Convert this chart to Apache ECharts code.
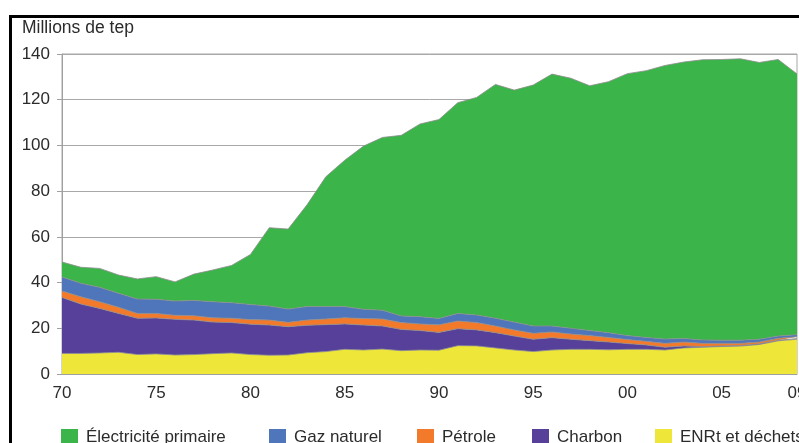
<!DOCTYPE html>
<html lang="fr">

<head>
    <meta charset="UTF-8">
    <title>Production d'énergie primaire</title>
    <script src="https://cdn.jsdelivr.net/npm/echarts@6/dist/echarts.min.js"></script>
    <style>
        body {
            margin: 0;
            background-color: #fff;
        }

        #chart {
            width: 799px;
            height: 443px;
        }

        .frame {
            position: absolute;
            left: 9px;
            top: 15px;
            right: 0;
            bottom: 0;
            border-left: 3px solid #000;
            border-top: 3px solid #000;
            pointer-events: none;
        }
    </style>
</head>

<body>
    <div id="chart"></div>
    <div class="frame"></div>
    <script>
        // Années 1970 - 2009
        const annees = [];
        for (let a = 1970; a <= 2009; a++) annees.push(String(a));

        // Millions de tep, par source (lecture du graphique)
        const enrt = [9.0, 9.0, 9.2, 9.5, 8.5, 8.8, 8.3, 8.5, 8.9, 9.2,
            8.5, 8.2, 8.3, 9.3, 9.8, 10.8, 10.5, 10.9, 10.2, 10.5,
            10.4, 12.4, 12.3, 11.4, 10.5, 9.8, 10.5, 10.8, 10.8, 10.6,
            10.8, 10.8, 10.5, 11.4, 11.7, 12.0, 12.2, 12.9, 14.5, 15.2];
        const charbon = [24.5, 21.6, 19.5, 17.0, 15.9, 15.7, 15.6, 15.1, 13.8, 13.3,
            13.3, 13.2, 12.4, 12.0, 11.8, 11.1, 10.9, 10.1, 9.3, 8.5,
            7.8, 7.4, 7.0, 6.7, 6.1, 5.4, 5.4, 4.4, 3.8, 3.4,
            2.5, 1.9, 1.2, 0.85, 0.3, 0.3, 0.3, 0.3, 0.3, 0.3];
        const petrole = [2.8, 3.2, 2.9, 2.7, 2.1, 2.0, 1.8, 1.9, 1.9, 1.9,
            2.0, 2.2, 1.9, 2.3, 2.5, 2.7, 2.9, 3.1, 3.0, 2.9,
            3.3, 3.4, 3.2, 2.9, 2.7, 2.6, 2.5, 2.3, 2.2, 2.0,
            1.8, 1.6, 1.7, 1.75, 1.4, 1.1, 0.9, 0.8, 0.8, 0.8];
        const gaz = [6.1, 5.9, 6.3, 6.1, 6.3, 6.2, 6.2, 6.7, 7.0, 6.8,
            6.6, 6.1, 5.8, 5.9, 5.4, 4.9, 4.0, 3.8, 2.9, 3.2,
            2.8, 3.3, 3.3, 3.4, 3.4, 3.2, 2.6, 2.5, 2.2, 2.1,
            1.7, 1.7, 1.9, 1.5, 1.5, 1.4, 1.4, 1.2, 1.0, 0.9];
        const electricite = [6.6, 7.0, 8.3, 8.0, 8.8, 9.9, 8.4, 11.5, 13.9, 16.3,
            21.9, 34.3, 35.0, 44.5, 56.8, 64.0, 71.4, 75.6, 79.0, 84.3,
            87.0, 92.2, 95.2, 102.3, 101.5, 105.4, 110.2, 109.4, 107.1, 109.8,
            114.6, 116.7, 119.7, 121.0, 122.6, 122.8, 123.1, 121.1, 121.0, 114.1];

        const noms = ['Électricité primaire', 'Gaz naturel', 'Pétrole', 'Charbon', 'ENRt et déchets'];
        const couleurs = ['#3bb44a', '#4f75ba', '#f37a2b', '#56409a', '#efe63a'];
        const legendeX = [61, 269, 417, 532, 655];

        const police = '"Liberation Sans", Arial, sans-serif';
        const texte = '#2b2b2b';

        var myChart = echarts.init(document.getElementById('chart'));

        function serie(nom, data, i) {
            return {
                name: nom,
                type: 'line',
                stack: 'total',
                data: data,
                symbol: 'none',
                color: couleurs[i],
                lineStyle: { width: 1, color: '#8c8c8c', opacity: 0.8 },
                itemStyle: { color: couleurs[i] },
                areaStyle: { color: couleurs[i], opacity: 1 }
            };
        }

        var option = {
            animation: false,
            textStyle: { fontFamily: police },
            grid: {
                left: 62,
                right: 2,
                top: 54,
                bottom: 69,
                outerBoundsMode: 'none',
                containLabel: false,
                show: true,
                borderColor: '#a8a8a8',
                borderWidth: 1
            },
            legend: noms.map(function (nom, i) {
                return {
                    data: [nom],
                    left: legendeX[i],
                    top: 429,
                    itemWidth: 17,
                    itemHeight: 17,
                    icon: 'rect',
                    selectedMode: false,
                    padding: 0,
                    itemStyle: { borderWidth: 0 },
                    textStyle: { fontSize: 17, color: texte, fontFamily: police, padding: [0, 0, 0, 3] }
                };
            }),
            graphic: [{
                type: 'text',
                left: 22,
                top: 19,
                style: {
                    text: 'Millions de tep',
                    fontSize: 17.5,
                    fontFamily: police,
                    fill: texte
                }
            }],
            xAxis: {
                type: 'category',
                data: annees,
                boundaryGap: false,
                axisLine: { lineStyle: { color: '#a0a0a0' } },
                axisTick: { show: false },
                axisLabel: {
                    interval: function (i) { return i % 5 === 0 || i === annees.length - 1; },
                    formatter: function (v) { return v.slice(2); },
                    fontSize: 17,
                    color: texte,
                    margin: 11
                }
            },
            yAxis: {
                type: 'value',
                min: 0,
                max: 140,
                interval: 20,
                axisLine: { show: true, lineStyle: { color: '#a0a0a0' } },
                axisTick: { show: true, length: 5, lineStyle: { color: '#a0a0a0' } },
                splitLine: { lineStyle: { color: '#a8a8a8' } },
                axisLabel: { fontSize: 17, color: texte, margin: 12 }
            },
            series: [
                serie(noms[4], enrt, 4),
                serie(noms[3], charbon, 3),
                serie(noms[2], petrole, 2),
                serie(noms[1], gaz, 1),
                serie(noms[0], electricite, 0)
            ]
        };

        myChart.setOption(option);
    </script>
</body>

</html>
